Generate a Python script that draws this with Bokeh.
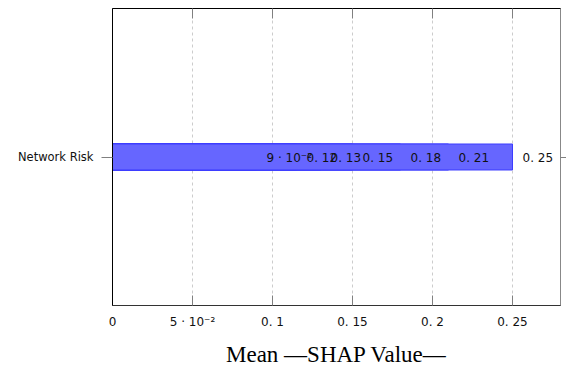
from bokeh.plotting import figure
from bokeh.models import FactorRange, Range1d, FixedTicker, LinearAxis, CategoricalAxis, ColumnDataSource
from bokeh.core.properties import value
from bokeh.embed import file_html
from bokeh.resources import INLINE

# Data (all bars collapse onto one category in the original)
category = "Network Risk"
shap_values = [0.09, 0.115, 0.13, 0.15, 0.18, 0.21, 0.25]
value_labels = ["9 · 10⁻²", "0. 12", "0. 13", "0. 15", "0. 18", "0. 21", "0. 25"]
x_ticks = [0, 0.05, 0.1, 0.15, 0.2, 0.25]
x_tick_labels = ["0", "5 · 10⁻²", "0. 1", "0. 15", "0. 2", "0. 25"]
x_max = 0.28

src = ColumnDataSource(dict(
    y=[category] * len(shap_values),
    x=shap_values,
    label=value_labels,
))

p = figure(width=566, height=375, output_backend="svg", toolbar_location=None,
           y_range=FactorRange(factors=[category], range_padding=0),
           x_range=Range1d(0, x_max),
           x_axis_location=None, y_axis_location=None,
           min_border_left=112, min_border_right=6, min_border_top=8, min_border_bottom=70)

p.outline_line_color = "#000000"
p.outline_line_width = 1
p.background_fill_color = "white"
p.border_fill_color = "white"

p.hbar(y="y", right="x", left=0, height=0.0875, source=src,
       fill_color="#6666ff", line_color="#3c3cff", line_width=1)

p.text(x="x", y="y", text="label", source=src, x_offset=10, y_offset=1,
       text_font=value("DejaVu Sans"), text_font_size="12px",
       text_baseline="middle", text_align="left", text_color="#111111")

ticker = FixedTicker(ticks=x_ticks)
overrides = {t: l for t, l in zip(x_ticks, x_tick_labels)}

below = LinearAxis(ticker=ticker, axis_label="Mean —SHAP Value—")
below.major_label_overrides = overrides
below.major_tick_in = 10
below.major_tick_out = 0
below.minor_tick_in = 0
below.minor_tick_out = 0
below.major_tick_line_color = "#808080"
below.axis_line_color = "#333333"
below.major_label_text_font = "DejaVu Sans"
below.major_label_text_font_size = "12px"
below.major_label_text_color = "#111111"
below.major_label_standoff = 9
below.axis_label_text_font = "Liberation Serif"
below.axis_label_text_font_size = "23px"
below.axis_label_text_font_style = "normal"
below.axis_label_text_color = "#000000"
below.axis_label_standoff = 10
p.add_layout(below, "below")

above = LinearAxis(ticker=ticker)
above.major_label_text_font_size = "0px"
above.major_label_text_color = None
above.major_tick_in = 10
above.major_tick_out = 0
above.minor_tick_in = 0
above.minor_tick_out = 0
above.major_tick_line_color = "#808080"
above.axis_line_color = "#000000"
above.major_label_standoff = 0
p.add_layout(above, "above")

left = CategoricalAxis()
left.major_tick_out = 11
left.major_tick_in = 0
left.major_tick_line_color = "#808080"
left.axis_line_color = "#000000"
left.major_label_text_font = "DejaVu Sans"
left.major_label_text_font_size = "11.5px"
left.major_label_text_color = "#111111"
left.major_label_standoff = 8
p.add_layout(left, "left")

right = CategoricalAxis()
right.major_tick_out = 6
right.major_tick_in = 0
right.major_tick_line_color = "#808080"
right.axis_line_color = "#888888"
right.major_label_text_font_size = "0px"
right.major_label_text_color = None
right.major_label_standoff = 0
p.add_layout(right, "right")

p.xgrid.ticker = ticker
p.xgrid.grid_line_color = "#cccccc"
p.xgrid.grid_line_dash = "3 3"
p.ygrid.grid_line_color = None

open("out.html", "w").write(file_html(p, INLINE))
